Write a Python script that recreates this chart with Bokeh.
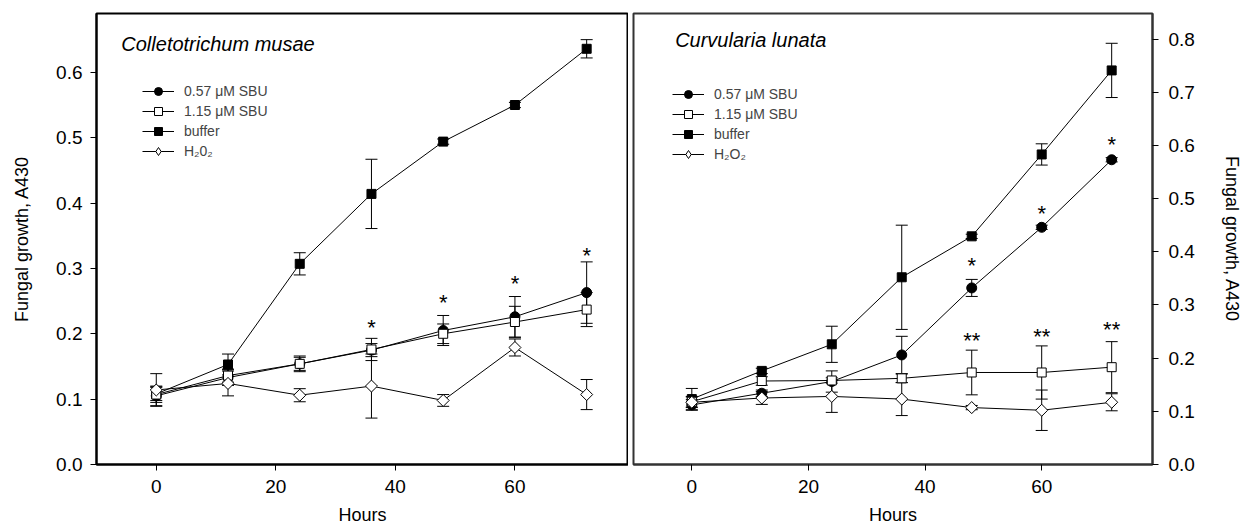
import numpy as np
from bokeh.plotting import figure
from bokeh.models import (ColumnDataSource, Whisker, TeeHead, Legend, LegendItem,
                          Label, FixedTicker, PrintfTickFormatter, Range1d)
from bokeh.layouts import row
from bokeh.core.properties import value
from bokeh.embed import file_html
from bokeh.resources import INLINE

FONT = "Liberation Sans"

hours = [0, 12, 24, 36, 48, 60, 72]
x_ticks = [0, 20, 40, 60]
left_y_ticks = [0.0, 0.1, 0.2, 0.3, 0.4, 0.5, 0.6]
right_y_ticks = [0.0, 0.1, 0.2, 0.3, 0.4, 0.5, 0.6, 0.7, 0.8]

series_names_left = ["0.57 \u03bcM SBU", "1.15 \u03bcM SBU", "buffer", "H\u20820\u2082"]
series_names_right = ["0.57 \u03bcM SBU", "1.15 \u03bcM SBU", "buffer", "H\u2082O\u2082"]

# Colletotrichum musae
cm_057 = [0.105, 0.133, 0.154, 0.175, 0.205, 0.226, 0.263]
cm_057_err = [0.015, 0.012, 0.010, 0.010, 0.023, 0.031, 0.047]
cm_115 = [0.107, 0.136, 0.154, 0.176, 0.200, 0.218, 0.237]
cm_115_err = [0.012, 0.010, 0.012, 0.017, 0.015, 0.024, 0.026]
cm_buf = [0.108, 0.153, 0.307, 0.414, 0.494, 0.550, 0.636]
cm_buf_err = [0.010, 0.016, 0.017, 0.053, 0.004, 0.004, 0.014]
cm_h2o2 = [0.114, 0.124, 0.106, 0.120, 0.098, 0.179, 0.107]
cm_h2o2_err = [0.025, 0.019, 0.010, 0.049, 0.009, 0.013, 0.023]
cm_star_x = [36, 48, 60, 72]
cm_star_y = [0.218, 0.255, 0.285, 0.327]
cm_star_t = ["*", "*", "*", "*"]

# Curvularia lunata
cl_057 = [0.112, 0.134, 0.156, 0.206, 0.332, 0.446, 0.573]
cl_057_err = [0.010, 0.006, 0.020, 0.035, 0.016, 0.004, 0.004]
cl_115 = [0.118, 0.157, 0.158, 0.162, 0.173, 0.173, 0.183]
cl_115_err = [0.010, 0.008, 0.005, 0.008, 0.042, 0.050, 0.048]
cl_buf = [0.123, 0.176, 0.226, 0.352, 0.429, 0.583, 0.741]
cl_buf_err = [0.020, 0.005, 0.034, 0.098, 0.004, 0.020, 0.051]
cl_h2o2 = [0.117, 0.125, 0.128, 0.123, 0.107, 0.102, 0.117]
cl_h2o2_err = [0.010, 0.012, 0.030, 0.031, 0.004, 0.038, 0.016]
cl_star_x = [48, 60, 72, 48, 60, 72]
cl_star_y = [0.383, 0.481, 0.612, 0.242, 0.250, 0.263]
cl_star_t = ["*", "*", "*", "**", "**", "**"]


def make_fig(width, height, yr, yticks, yloc, borders, outline_color, y_std, y_title_std):
    p = figure(width=width, height=height, x_range=Range1d(-10, 79), y_range=Range1d(*yr),
               output_backend="svg", toolbar_location=None, y_axis_location=yloc,
               min_border_left=borders[0], min_border_right=borders[1],
               min_border_top=borders[2], min_border_bottom=borders[3])
    p.grid.visible = False
    p.outline_line_color = outline_color
    p.outline_line_width = 2
    p.background_fill_color = "white"
    p.border_fill_color = "white"
    for ax in (p.xaxis[0], p.yaxis[0]):
        ax.major_tick_in = 0
        ax.major_tick_out = 6
        ax.minor_tick_in = 0
        ax.minor_tick_out = 0
        ax.axis_line_color = outline_color
        ax.axis_line_width = 2
        ax.major_tick_line_color = "black"
        ax.major_label_text_font = FONT
        ax.major_label_text_font_size = "19px"
        ax.major_label_text_color = "black"
        ax.axis_label_text_font = FONT
        ax.axis_label_text_font_size = "18px"
        ax.axis_label_text_font_style = "normal"
        ax.axis_label_text_color = "black"
    p.xaxis.ticker = FixedTicker(ticks=x_ticks)
    p.yaxis.ticker = FixedTicker(ticks=yticks)
    p.yaxis.formatter = PrintfTickFormatter(format="%.1f")
    p.xaxis.axis_label = "Hours"
    p.yaxis.axis_label = "Fungal growth, A430"
    p.xaxis.major_label_standoff = 9
    p.yaxis.major_label_standoff = y_std
    p.xaxis.axis_label_standoff = 9
    p.yaxis.axis_label_standoff = y_title_std
    return p


def add_series(p, data, names, legend_loc):
    styles = [
        dict(marker="circle", fill_color="black", size=10, angle=0.0),
        dict(marker="square", fill_color="white", size=9, angle=0.0),
        dict(marker="square", fill_color="black", size=9, angle=0.0),
        dict(marker="square", fill_color="white", size=8.5, angle=np.pi / 4),
    ]
    sources = []
    for vals, errs in data:
        sources.append(ColumnDataSource(dict(
            x=hours, y=vals,
            lo=[v - e for v, e in zip(vals, errs)],
            hi=[v + e for v, e in zip(vals, errs)])))
    for src in sources:
        w = Whisker(source=src, base="x", upper="hi", lower="lo",
                    line_color="black", line_width=1, level="underlay",
                    upper_head=TeeHead(size=12, line_color="black", line_width=1),
                    lower_head=TeeHead(size=12, line_color="black", line_width=1))
        p.add_layout(w)
    lines = [p.line("x", "y", source=src, line_color="black", line_width=1) for src in sources]
    # diamond glyph used for the legend entry (hidden under the rotated squares in the plot)
    legend_diamond = p.scatter("x", "y", source=sources[3], marker="diamond", size=11,
                               fill_color="white", line_color="black", line_width=1)
    order = [2, 0, 1, 3]
    marks = {}
    for i in order:
        st = styles[i]
        marks[i] = p.scatter("x", "y", source=sources[i], marker=st["marker"], size=st["size"],
                             angle=st["angle"], fill_color=st["fill_color"],
                             line_color="black", line_width=1)
    legend_marks = [marks[0], marks[1], marks[2], legend_diamond]
    items = [LegendItem(label=names[i], renderers=[lines[i], legend_marks[i]]) for i in range(4)]
    leg = Legend(items=items, location=legend_loc, glyph_width=32, glyph_height=20,
                 label_height=20, spacing=0, padding=0, margin=0, label_standoff=10,
                 label_text_font=FONT, label_text_font_size="14px",
                 border_line_color=None, background_fill_alpha=0)
    p.add_layout(leg)


# Left panel
p1 = make_fig(628, 528, (0, 0.69), left_y_ticks, "left", (96, 0, 13, 64), "black", 8, 21)
add_series(p1, [(cm_057, cm_057_err), (cm_115, cm_115_err), (cm_buf, cm_buf_err),
                (cm_h2o2, cm_h2o2_err)], series_names_left, (46, 303))
p1.text(x=cm_star_x, y=cm_star_y, text=cm_star_t, text_font=value(FONT), text_font_size="22px",
        text_align="center", text_baseline="middle", y_offset=5, text_color="black")
p1.add_layout(Label(x=-5.85, y=0.644, text="Colletotrichum musae", text_font=FONT,
                    text_font_style="italic", text_font_size="20px", text_baseline="middle",
                    text_color="black"))

# Right panel
p2 = make_fig(616, 528, (0, 0.848), right_y_ticks, "right", (5, 85, 13, 61), "#333333", 10, 24)
add_series(p2, [(cl_057, cl_057_err), (cl_115, cl_115_err), (cl_buf, cl_buf_err),
                (cl_h2o2, cl_h2o2_err)], series_names_right, (39, 300))
p2.text(x=cl_star_x, y=cl_star_y, text=cl_star_t, text_font=value(FONT), text_font_size="22px",
        text_align="center", text_baseline="middle", y_offset=5, text_color="black")
p2.add_layout(Label(x=-2.86, y=0.798, text="Curvularia lunata", text_font=FONT,
                    text_font_style="italic", text_font_size="20px", text_baseline="middle",
                    text_color="black"))

layout = row(p1, p2)
open("out.html", "w").write(file_html(layout, INLINE))
